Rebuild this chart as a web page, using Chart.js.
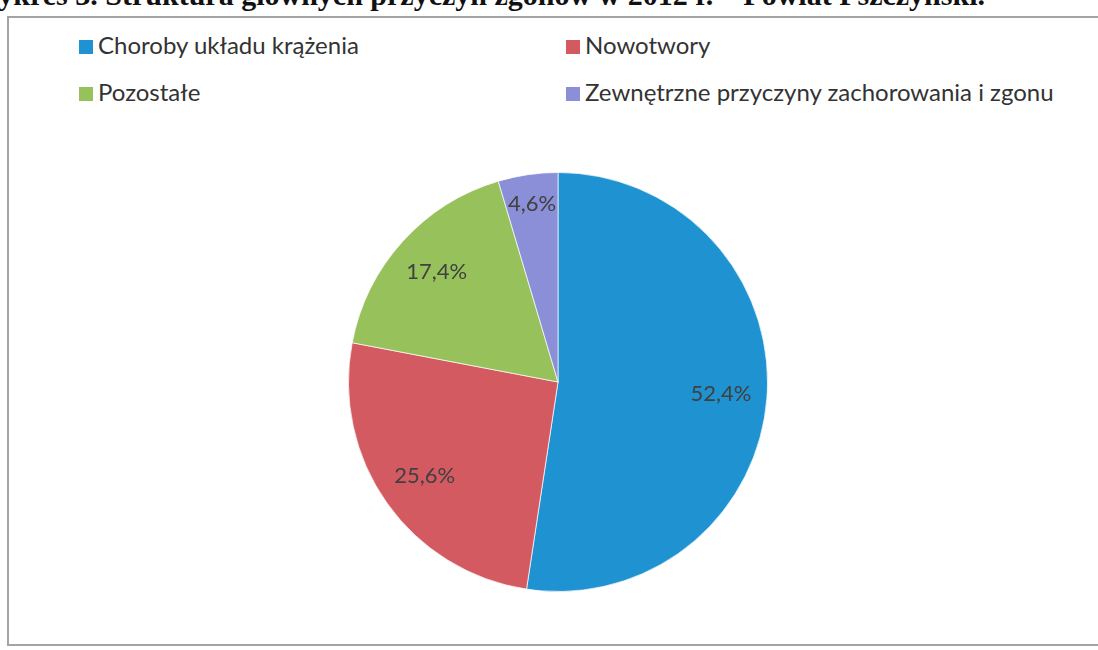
<!DOCTYPE html>
<html>
<head>
<meta charset="utf-8">
<script src="https://cdn.jsdelivr.net/npm/chart.js@4/dist/chart.umd.min.js"></script>
<style>
    body { margin: 0; width: 1098px; height: 650px; overflow: hidden; background: #fff; position: relative; }
    #title {
        position: absolute; right: 113px; top: -20px; white-space: nowrap;
        font: bold 30px "Liberation Serif", serif; line-height: 30px; color: #111;
    }
    #frame {
        position: absolute; left: 7px; top: 16px; width: 1110px; height: 630px;
        border: 2px solid #a4a4a4; box-sizing: border-box;
    }
    #legend { position: absolute; left: 0; top: 0; font: 24px Lato, sans-serif; color: #333; }
    .item { position: absolute; white-space: nowrap; line-height: 26px; }
    .item span { display: inline-block; width: 14px; height: 14px; margin-right: 5px; vertical-align: 0px; }
    canvas { position: absolute; left: 0; top: 0; }
</style>
</head>
<body>
<div id="title">Wykres 3. Struktura głównych przyczyn zgonów w 2012 r. – Powiat Pszczyński.</div>
<div id="frame"></div>
<div id="legend"></div>
<canvas id="pie" width="1098" height="650"></canvas>
<script>
    const categories = ['Choroby układu krążenia', 'Nowotwory', 'Pozostałe', 'Zewnętrzne przyczyny zachorowania i zgonu'];
    const shares = [52.4, 25.6, 17.4, 4.6];
    const colors = ['#1f92d1', '#d45a61', '#97c25b', '#8b8fd7'];

    // legend laid out in two columns, two rows
    const legendSpots = [[79, 32], [566, 32], [79, 79], [566, 79]];
    const legend = document.getElementById('legend');
    categories.forEach((name, i) => {
        const div = document.createElement('div');
        div.className = 'item';
        div.style.left = legendSpots[i][0] + 'px';
        div.style.top = legendSpots[i][1] + 'px';
        div.innerHTML = `<span style="background:${colors[i]}"></span>${name}`;
        legend.appendChild(div);
    });

    // percentage labels inside each slice
    const sliceLabels = {
        id: 'sliceLabels',
        afterDatasetsDraw(chart) {
            const { ctx } = chart;
            const meta = chart.getDatasetMeta(0);
            ctx.save();
            ctx.font = '22px Lato, sans-serif';
            ctx.fillStyle = '#404040';
            ctx.textAlign = 'center';
            ctx.textBaseline = 'middle';
            meta.data.forEach((arc, i) => {
                const mid = (arc.startAngle + arc.endAngle) / 2;
                const r = arc.outerRadius * (i === 3 ? 0.86 : 0.78);
                const x = arc.x + Math.cos(mid) * r;
                const y = arc.y + Math.sin(mid) * r;
                ctx.fillText(shares[i].toFixed(1).replace('.', ',') + '%', x, y);
            });
            ctx.restore();
        }
    };

    new Chart(document.getElementById('pie'), {
        type: 'pie',
        data: {
            labels: categories,
            datasets: [{
                data: shares,
                backgroundColor: colors,
                borderColor: 'rgba(255,255,255,0.7)',
                borderWidth: 1
            }]
        },
        options: {
            responsive: false,
            animation: false,
            layout: { padding: { left: 348, right: 330, top: 172, bottom: 58 } },
            plugins: { legend: { display: false }, tooltip: { enabled: false } }
        },
        plugins: [sliceLabels]
    });
</script>
</body>
</html>
